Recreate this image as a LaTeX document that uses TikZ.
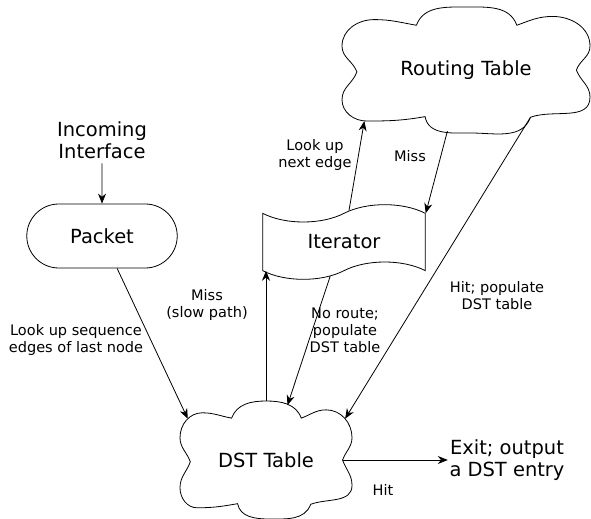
\documentclass[tikz,border=0pt]{standalone}
\usepackage{fontspec}
\setmainfont{DejaVu Sans}
\usetikzlibrary{shapes.symbols,shapes.misc,arrows.meta}

\tikzset{
  tablecloud/.pic={
    \draw (0.89,0) to[out=70,in=-90] (1,0.38) to[out=90,in=0] (0.70,0.85)
      to[out=180,in=20] (0.41,0.71) to[out=110,in=0] (0,1)
      to[out=180,in=70] (-0.40,0.71) to[out=170,in=0] (-0.74,0.80)
      to[out=180,in=90] (-1,0.38) to[out=-90,in=110] (-0.88,-0.03)
      to[out=-110,in=90] (-1,-0.47) to[out=-90,in=180] (-0.80,-0.81)
      to[out=0,in=190] (-0.33,-0.74) to[out=-80,in=180] (0.04,-1)
      to[out=0,in=-110] (0.52,-0.75) to[out=20,in=-90] (1,-0.43)
      to[out=90,in=-70] cycle;
    \coordinate (-east) at (0.89,0);
    \coordinate (-top) at (0,1);
    \coordinate (-ul) at (-0.91,0.70);
    \coordinate (-ur) at (0.92,0.70);
    \coordinate (-tr) at (0.25,0.93);
    \coordinate (-ll) at (-0.82,-0.81);
    \coordinate (-bot) at (-0.15,-0.97);
    \coordinate (-br) at (0.52,-0.75);
  }
}

\begin{document}
\begin{tikzpicture}[x=0.75pt, y=0.75pt, line width=0.6pt,
  >={Stealth[length=7.5pt,width=6pt]},
  big/.style={font=\fontsize{14.6}{16.5}\selectfont, align=center},
  small/.style={font=\fontsize{10.9}{12.75}\selectfont, align=center}]
  \useasboundingbox (0,0) rectangle (591,518);
  \node [big] (incoming) at (102,378) {Incoming\\Interface};
  \node [draw, rounded rectangle, big, minimum width=119.5pt, minimum height=48pt] (packet) at (102,282) {Packet};
  \node [big, minimum width=186pt, minimum height=94.5pt] (routing) at (466,448) {Routing Table};
  \pic [x=93pt, y=47.25pt] (routing) at (routing.center) {tablecloud};
  \node [draw, tape, big, minimum width=122pt, minimum height=56pt, tape bend height=13pt] (iter) at (344,276) {Iterator};
  \node [big, minimum width=129pt, minimum height=88.5pt] (dst) at (266,58) {DST Table};
  \pic [x=64.5pt, y=44.25pt] (dst) at (dst.center) {tablecloud};
  \node [big, inner sep=1pt] (exit) at (507,58) {Exit; output\\a DST entry};
  \draw [->] (incoming) -- (packet);
  \draw [->] (packet.-65) -- (dst-ul);
  \draw [->] (dst-top) -- (dst-top |- iter.south west);
  \draw [->] (iter.-112) -- (dst-tr);
  \draw [->] (iter.81) -- (routing-ll);
  \draw [->] (routing-bot) -- (iter.north east);
  \draw [->] (routing-br) -- (dst-ur);
  \draw [->] (dst-east) -- (exit.west);
  \node [small] (lookupseq) at (76,178) {Look up sequence\\edges of last node};
  \node [small] (slowmiss) at (207,213) {Miss\\(slow path)};
  \node [small] (lookupnext) at (315,363) {Look up\\next edge};
  \node [small] (routemiss) at (410,362) {Miss};
  \node [small] (routehit) at (497,222) {Hit; populate\\DST table};
  \node [small] (noroute) at (345,188) {No route;\\populate\\DST table};
  \node [small] (dsthit) at (383,28) {Hit};
\end{tikzpicture}
\end{document}
